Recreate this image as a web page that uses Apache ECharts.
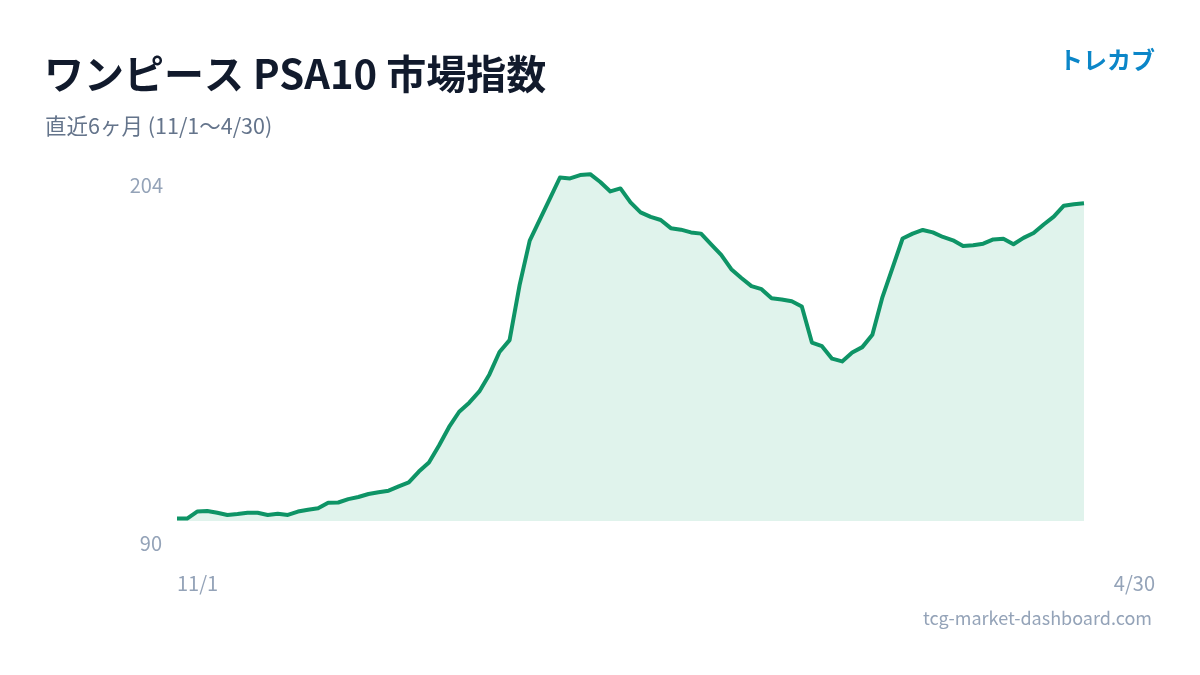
<!DOCTYPE html>
<html>
<head>
<meta charset="utf-8">
<script src="https://cdn.jsdelivr.net/npm/echarts@6/dist/echarts.min.js"></script>
<style>
html,body{margin:0;padding:0;background:#fff;}
#chart{width:1200px;height:675px;}
</style>
</head>
<body>
<div id="chart"></div>
<script>
const categories = [
  '11/1','11/3','11/5','11/7','11/9','11/11','11/13','11/15','11/17','11/19','11/21','11/23','11/25','11/27','11/29',
  '12/1','12/3','12/5','12/7','12/9','12/11','12/13','12/15','12/17','12/19','12/21','12/23','12/25','12/27','12/29','12/31',
  '1/2','1/4','1/6','1/8','1/10','1/12','1/14','1/16','1/18','1/20','1/22','1/24','1/26','1/28','1/30',
  '2/1','2/3','2/5','2/7','2/9','2/11','2/13','2/15','2/17','2/19','2/21','2/23','2/25','2/27',
  '3/1','3/3','3/5','3/7','3/9','3/11','3/13','3/15','3/17','3/19','3/21','3/23','3/25','3/27','3/29','3/31',
  '4/2','4/4','4/6','4/8','4/10','4/12','4/14','4/16','4/18','4/20','4/22','4/24','4/26','4/28','4/30'
];
const indexValues = [
  89.8, 89.8, 92.1, 92.3, 91.7, 91.0, 91.3, 91.7, 91.7, 91.0,
  91.4, 91.0, 92.1, 92.7, 93.2, 95.0, 95.1, 96.2, 96.9, 97.9,
  98.5, 99.0, 100.4, 101.7, 105.3, 108.3, 113.9, 120.0, 125.0, 128.0,
  131.7, 137.3, 144.7, 148.6, 166.8, 181.4, 188.3, 195.2, 202.2, 201.9,
  203.0, 203.3, 200.7, 197.6, 198.6, 194.0, 190.7, 189.2, 188.2, 185.5,
  185.0, 184.1, 183.7, 180.2, 176.7, 172.0, 169.1, 166.4, 165.4, 162.4,
  162.0, 161.4, 159.7, 147.8, 146.6, 142.5, 141.6, 144.5, 146.3, 150.4,
  162.8, 172.4, 182.1, 183.7, 184.9, 184.1, 182.6, 181.5, 179.6, 179.9,
  180.4, 181.8, 182.0, 180.2, 182.3, 183.9, 186.7, 189.3, 192.9, 193.4,
  193.7
];
const yTickLabels = ['204', '90'];
const xTickLabels = ['11/1', '4/30'];

const FONT = '"Noto Sans CJK JP", "Noto Sans", sans-serif';
const chart = echarts.init(document.getElementById('chart'));
chart.setOption({
  backgroundColor: '#ffffff',
  animation: false,
  grid: { left: 177, right: 116, top: 169, bottom: 154 },
  xAxis: {
    type: 'category', data: categories, boundaryGap: false,
    axisLine: { show: false }, axisTick: { show: false }, axisLabel: { show: false }, splitLine: { show: false }
  },
  yAxis: {
    type: 'value', min: 89, max: 205,
    axisLine: { show: false }, axisTick: { show: false }, axisLabel: { show: false }, splitLine: { show: false }
  },
  series: [{
    type: 'line', data: indexValues, showSymbol: false, smooth: false,
    lineStyle: { color: '#0e9466', width: 4, join: 'round' },
    areaStyle: { color: '#e0f3ec', opacity: 1 }
  }],
  graphic: [
    { type: 'text', left: 44, top: 54, style: { text: 'ワンピース PSA10 市場指数', font: 'bold 40px ' + FONT, fill: '#111a2c' } },
    { type: 'text', left: 45, top: 115, style: { text: '直近6ヶ月 (11/1〜4/30)', font: '21.5px ' + FONT, fill: '#64748b' } },
    { type: 'text', right: 45, top: 48, style: { text: 'トレカブ', font: 'bold 24px ' + FONT, fill: '#0b86c8' } },
    { type: 'text', right: 1037, top: 175, style: { text: yTickLabels[0], font: '20px ' + FONT, fill: '#94a3b8' } },
    { type: 'text', right: 1038, top: 533, style: { text: yTickLabels[1], font: '20px ' + FONT, fill: '#94a3b8' } },
    { type: 'text', left: 177, top: 573, style: { text: xTickLabels[0], font: '20px ' + FONT, fill: '#94a3b8' } },
    { type: 'text', right: 45, top: 573, style: { text: xTickLabels[1], font: '20px ' + FONT, fill: '#94a3b8' } },
    { type: 'text', right: 48, top: 609, style: { text: 'tcg-market-dashboard.com', font: '18px ' + FONT, fill: '#94a3b8' } }
  ]
});
</script>
</body>
</html>
